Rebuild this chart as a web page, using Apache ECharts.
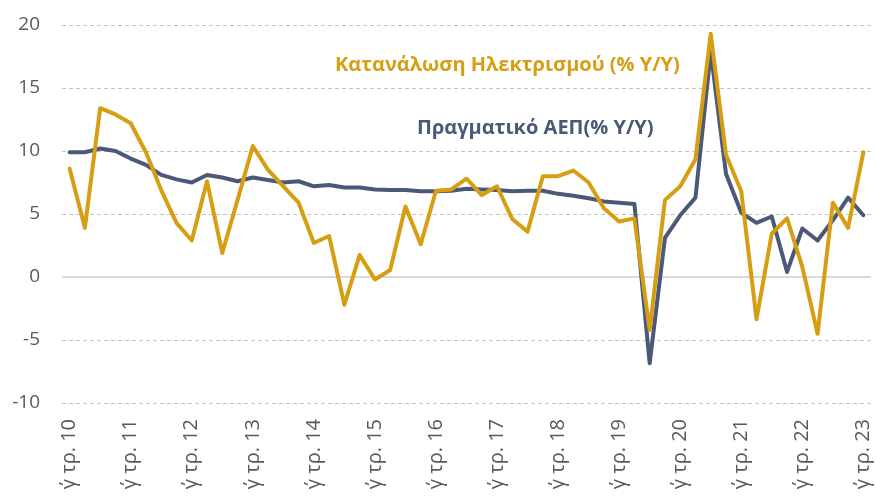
<!DOCTYPE html>
<html>
<head>
<meta charset="utf-8">
<script src="https://cdn.jsdelivr.net/npm/echarts@6/dist/echarts.min.js"></script>
<style>
  html, body { margin: 0; padding: 0; background: #fff; }
  #chart { width: 876px; height: 500px; }
</style>
</head>
<body>
<div id="chart"></div>
<script>
// τρίμηνα: γ΄ τρ. 2010 έως γ΄ τρ. 2023
const quarterNames = ['α΄', 'β΄', 'γ΄', 'δ΄']
const startYear = 10
const startQuarter = 2 // γ΄
const pointCount = 53

const categories = []
for (let i = 0; i < pointCount; i++) {
  const q = (startQuarter + i) % 4
  const y = startYear + Math.floor((startQuarter + i) / 4)
  categories.push(quarterNames[q] + ' τρ. ' + y)
}

// Πραγματικό ΑΕΠ (% Y/Y)
const gdp = [
  9.9, 9.9, 10.2, 10.0, 9.4, 8.9, 8.1, 7.75, 7.5, 8.1,
  7.9, 7.6, 7.9, 7.7, 7.5, 7.6, 7.2, 7.3, 7.1, 7.1,
  6.95, 6.9, 6.9, 6.8, 6.8, 6.85, 7.0, 6.95, 6.9, 6.8,
  6.85, 6.85, 6.6, 6.45, 6.25, 6.0, 5.9, 5.8, -6.85, 3.1,
  4.9, 6.3, 17.9, 8.2, 5.1, 4.3, 4.8, 0.4, 3.85, 2.9,
  4.5, 6.3, 4.9
]

// Κατανάλωση Ηλεκτρισμού (% Y/Y)
const electricity = [
  8.6, 3.9, 13.4, 12.9, 12.2, 9.9, 6.9, 4.3, 2.9, 7.6,
  1.9, 6.1, 10.4, 8.5, 7.2, 5.9, 2.7, 3.25, -2.2, 1.75,
  -0.2, 0.55, 5.6, 2.6, 6.85, 6.95, 7.8, 6.5, 7.2, 4.6,
  3.6, 8.0, 8.0, 8.45, 7.5, 5.45, 4.4, 4.65, -4.2, 6.1,
  7.2, 9.35, 19.3, 9.7, 6.8, -3.35, 3.45, 4.65, 0.8, -4.5,
  5.9, 3.9, 9.9
]

const yTicks = { min: -10, max: 20, step: 5 }

const gold = '#D69E12'
const slate = '#4B5877'
const labelGrey = '#595959'
const font = '"Open Sans", "Noto Sans", sans-serif'

const chart = echarts.init(document.getElementById('chart'))

chart.setOption({
  animation: false,
  backgroundColor: '#ffffff',
  grid: { left: 62, right: 5, top: 25, bottom: 97, containLabel: false },
  xAxis: {
    type: 'category',
    data: categories,
    boundaryGap: true,
    axisLine: { show: false },
    axisTick: { show: false },
    splitLine: { show: false },
    axisLabel: {
      interval: 3,
      rotate: 90,
      margin: 16,
      color: labelGrey,
      fontFamily: font,
      fontSize: 20,
    },
  },
  yAxis: {
    type: 'value',
    min: yTicks.min,
    max: yTicks.max,
    interval: yTicks.step,
    axisLine: { show: false },
    axisTick: { show: false },
    axisLabel: {
      color: labelGrey,
      fontFamily: font,
      fontSize: 19,
      margin: 22,
    },
    splitLine: {
      lineStyle: { color: '#C4C4C4', type: [4, 3], width: 1 },
    },
  },
  graphic: [
    {
      type: 'text',
      left: 335,
      top: 55,
      style: {
        text: 'Κατανάλωση Ηλεκτρισμού (% Y/Y)',
        fill: gold,
        font: 'bold 20px ' + font,
      },
    },
    {
      type: 'text',
      left: 417,
      top: 118,
      style: {
        text: 'Πραγματικό ΑΕΠ(% Y/Y)',
        fill: slate,
        font: 'bold 20px ' + font,
      },
    },
  ],
  series: [
    {
      name: 'Πραγματικό ΑΕΠ(% Y/Y)',
      type: 'line',
      data: gdp,
      showSymbol: false,
      symbol: 'none',
      lineStyle: { color: slate, width: 4, join: 'round', cap: 'round' },
      z: 3,
      markLine: {
        silent: true,
        symbol: 'none',
        label: { show: false },
        lineStyle: { color: '#D9D9D9', width: 2, type: 'solid' },
        data: [{ yAxis: 0 }],
        z: 1,
      },
    },
    {
      name: 'Κατανάλωση Ηλεκτρισμού (% Y/Y)',
      type: 'line',
      data: electricity,
      showSymbol: false,
      symbol: 'none',
      lineStyle: { color: gold, width: 4, join: 'round', cap: 'round' },
      z: 4,
    },
  ],
})
</script>
</body>
</html>
